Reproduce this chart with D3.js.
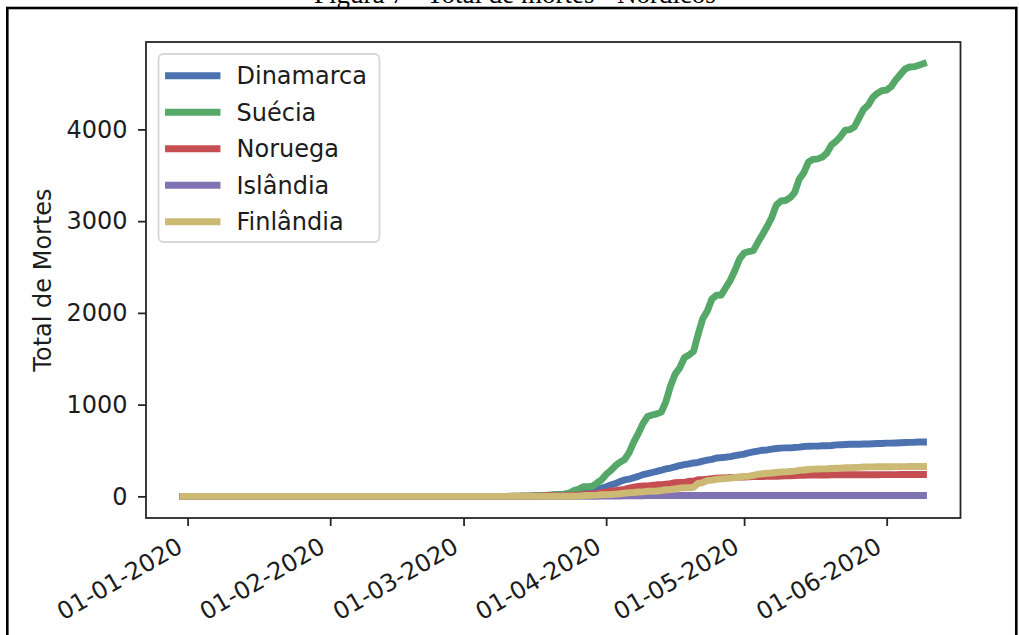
<!DOCTYPE html>
<html>
<head>
<meta charset="utf-8">
<script src="https://cdn.jsdelivr.net/npm/d3@7"></script>
<style>
  html, body { margin: 0; padding: 0; background: #fff; }
  svg { display: block; }
</style>
</head>
<body>
<svg id="chart" width="1019" height="635"></svg>
<script>
// ---------------- DATA ----------------
const startDate = "2019-12-31";
const endDate = "2020-06-09";
const countries = ["Dinamarca", "Suécia", "Noruega", "Islândia", "Finlândia"];
const xTickLabels = ["01-01-2020", "01-02-2020", "01-03-2020", "01-04-2020", "01-05-2020", "01-06-2020"];
const yTickValues = [0, 1000, 2000, 3000, 4000];
const captionText = "Figura 7 - Total de mortes - Nórdicos";
const yLabel = "Total de Mortes";

// 31 Dec 2019 + January + February (61 days of zeros)
const zerosDecFeb = [
  0,
  0,0,0,0,0,0,0,0,0,0, 0,0,0,0,0,0,0,0,0,0, 0,0,0,0,0,0,0,0,0,0, 0,
  0,0,0,0,0,0,0,0,0,0, 0,0,0,0,0,0,0,0,0,0, 0,0,0,0,0,0,0,0,0
];

const dinamarca = zerosDecFeb.concat([
  // March
  0,0,0,0,0,0,0,0,0,0, 0,0,0,1,2,3,4,4,6,9, 13,13,24,32,34,41,52,65,72,77,90,
  // April
  104,123,139,161,179,187,203,218,237,247, 260,273,285,299,309,321,336,346,355,364,
  370,384,394,403,418,422,427,434,443,452,
  // May
  460,475,484,493,503,506,514,522,526,529, 529,533,537,543,547,548,548,551,551,554,
  561,563,565,568,568,568,571,571,574,576,576,
  // June
  580,580,582,585,587,589,590,593,593
]);

const suecia = zerosDecFeb.concat([
  0,0,0,0,0,0,0,0,0,0, 1,1,1,2,3,6,7,10,11,16, 20,21,25,36,62,77,105,105,110,146,180,
  239,282,333,373,401,477,591,687,793,870, 887,899,919,1033,1203,1333,1400,1511,1540,1580,
  1765,1937,2021,2152,2192,2194,2274,2355,2462,2586,
  2653,2669,2679,2769,2854,2941,3040,3175,3220,3225, 3256,3313,3460,3529,3646,3674,3679,3698,3743,3831,
  3871,3925,3992,3998,4029,4125,4220,4266,4350,4395,4423,
  4430,4468,4542,4600,4659,4680,4684,4700,4717
]);

const noruega = zerosDecFeb.concat([
  0,0,0,0,0,0,0,0,0,0, 0,1,1,3,3,3,3,3,6,7, 7,7,10,12,14,14,19,23,23,32,39,
  50,59,62,71,76,89,101,108,113,113, 119,126,128,134,139,150,152,152,165,165,
  181,182,187,194,199,201,201,205,207,210,
  211,214,215,216,217,218,219,219,222,224, 224,228,229,230,232,232,232,233,233,234,
  234,235,235,235,235,235,236,236,236,236,237,
  237,237,237,238,238,238,239,239,239
]);

const islandia = zerosDecFeb.concat([
  0,0,0,0,0,0,0,0,0,0, 0,0,0,0,0,0,0,0,0,0, 1,1,1,2,2,2,2,2,2,2,4,
  4,4,4,4,6,6,6,6,6,8, 8,8,8,8,8,8,9,9,10,10,
  10,10,10,10,10,10,10,10,10,10,
  10,10,10,10,10,10,10,10,10,10, 10,10,10,10,10,10,10,10,10,10,
  10,10,10,10,10,10,10,10,10,10,10,
  10,10,10,10,10,10,10,10,10
]);

const finlandia = zerosDecFeb.concat([
  0,0,0,0,0,0,0,0,0,0, 0,0,0,0,0,0,0,0,0,0, 1,1,1,1,3,3,7,9,11,13,17,
  19,20,25,28,34,40,42,48,49,56, 56,59,64,72,75,82,90,94,94,98,
  141,149,172,177,186,190,193,199,206,211,
  218,220,230,240,246,252,255,260,265,267, 271,275,284,287,293,297,298,300,301,304,
  306,308,312,313,314,316,320,321,321,322,322,
  323,323,324,324,324,325,325,326,326
]);

const seriesValues = [dinamarca, suecia, noruega, islandia, finlandia];
const colors = ["#4C72B0", "#55A868", "#C44E52", "#8172B2", "#CCB974"];

// ---------------- LAYOUT ----------------
const W = 1019, H = 635;
const plot = { left: 146, right: 960.5, top: 42, bottom: 518 };
const fontFamily = "'DejaVu Sans', sans-serif";
const fontSize = 24;
const textColor = "#1c1c1c";
const spineColor = "#262626";
const lineW = 6.9;

const svg = d3.select("#chart");
svg.append("rect").attr("width", W).attr("height", H).attr("fill", "#fff");

// caption (cut off at top, as in the reference)
svg.append("text")
  .attr("x", 515).attr("y", 3)
  .attr("text-anchor", "middle")
  .attr("font-family", "'Liberation Serif', 'Times New Roman', serif")
  .attr("font-size", 27)
  .attr("fill", "#000")
  .text(captionText);

// outer frame
svg.append("rect")
  .attr("x", 7.3).attr("y", 8)
  .attr("width", 1009).attr("height", 700)
  .attr("fill", "none").attr("stroke", "#000").attr("stroke-width", 2.6);

// ---------------- SCALES ----------------
const parse = d3.utcParse("%Y-%m-%d");
const dates = d3.utcDay.range(parse(startDate), d3.utcDay.offset(parse(endDate), 1));
const t0 = dates[0].getTime(), t1 = dates[dates.length - 1].getTime();
const tPad = (t1 - t0) * 0.05;
const x = d3.scaleUtc()
  .domain([new Date(t0 - tPad), new Date(t1 + tPad)])
  .range([plot.left, plot.right]);

const vMin = d3.min(seriesValues, s => d3.min(s));
const vMax = d3.max(seriesValues, s => d3.max(s));
const vPad = (vMax - vMin) * 0.05;
const y = d3.scaleLinear()
  .domain([vMin - vPad, vMax + vPad])
  .range([plot.bottom, plot.top]);

// ---------------- LINES ----------------
const clipId = "plotclip";
svg.append("clipPath").attr("id", clipId)
  .append("rect")
  .attr("x", plot.left).attr("y", plot.top)
  .attr("width", plot.right - plot.left).attr("height", plot.bottom - plot.top);

const line = d3.line()
  .x((d, i) => x(dates[i]))
  .y(d => y(d));

const gLines = svg.append("g").attr("clip-path", `url(#${clipId})`);
seriesValues.forEach((vals, k) => {
  gLines.append("path")
    .datum(vals)
    .attr("d", line)
    .attr("fill", "none")
    .attr("stroke", colors[k])
    .attr("stroke-width", lineW)
    .attr("stroke-linecap", "square")
    .attr("stroke-linejoin", "round");
});

// ---------------- AXES ----------------
const xTickDates = xTickLabels.map(s => {
  const [dd, mm, yy] = s.split("-");
  return parse(`${yy}-${mm}-${dd}`);
});

const xAxis = d3.axisBottom(x)
  .tickValues(xTickDates)
  .tickSize(8)
  .tickPadding(8)
  .tickFormat((d, i) => xTickLabels[i]);

const gx = svg.append("g")
  .attr("transform", `translate(0,${plot.bottom})`)
  .call(xAxis);
gx.select(".domain").remove();
gx.selectAll(".tick line").attr("stroke", spineColor).attr("stroke-width", 1.8);
gx.selectAll(".tick text")
  .attr("font-family", fontFamily)
  .attr("font-size", fontSize)
  .attr("fill", textColor)
  .attr("text-anchor", "end")
  .attr("dy", null)
  .attr("y", null)
  .attr("transform", "translate(-4,33) rotate(-30)");

const yAxis = d3.axisLeft(y)
  .tickValues(yTickValues)
  .tickSize(8)
  .tickPadding(10.5)
  .tickFormat(d3.format("d"));

const gy = svg.append("g")
  .attr("transform", `translate(${plot.left},0)`)
  .call(yAxis);
gy.select(".domain").remove();
gy.selectAll(".tick line").attr("stroke", spineColor).attr("stroke-width", 1.8);
gy.selectAll(".tick text")
  .attr("font-family", fontFamily)
  .attr("font-size", fontSize)
  .attr("fill", textColor);

// spines
svg.append("rect")
  .attr("x", plot.left).attr("y", plot.top)
  .attr("width", plot.right - plot.left).attr("height", plot.bottom - plot.top)
  .attr("fill", "none").attr("stroke", spineColor).attr("stroke-width", 1.8);

// y label
svg.append("text")
  .attr("transform", `translate(50.5,${(plot.top + plot.bottom) / 2}) rotate(-90)`)
  .attr("text-anchor", "middle")
  .attr("font-family", fontFamily)
  .attr("font-size", fontSize)
  .attr("fill", textColor)
  .text(yLabel);

// ---------------- LEGEND ----------------
const leg = { x: 158.5, y: 54, w: 221, h: 188, row0: 75.7, rowH: 36.5, hx0: 168.5, hx1: 217, tx: 236.5 };
const gLeg = svg.append("g");
gLeg.append("rect")
  .attr("x", leg.x).attr("y", leg.y)
  .attr("width", leg.w).attr("height", leg.h)
  .attr("rx", 5).attr("ry", 5)
  .attr("fill", "#fff").attr("fill-opacity", 0.8)
  .attr("stroke", "#d6d6d6").attr("stroke-width", 1.8);

countries.forEach((name, k) => {
  const cy = leg.row0 + k * leg.rowH;
  gLeg.append("line")
    .attr("x1", leg.hx0).attr("x2", leg.hx1)
    .attr("y1", cy).attr("y2", cy)
    .attr("stroke", colors[k])
    .attr("stroke-width", lineW)
    .attr("stroke-linecap", "square");
  gLeg.append("text")
    .attr("x", leg.tx).attr("y", cy)
    .attr("dy", "0.36em")
    .attr("font-family", fontFamily)
    .attr("font-size", fontSize)
    .attr("fill", textColor)
    .text(name);
});
</script>
</body>
</html>
